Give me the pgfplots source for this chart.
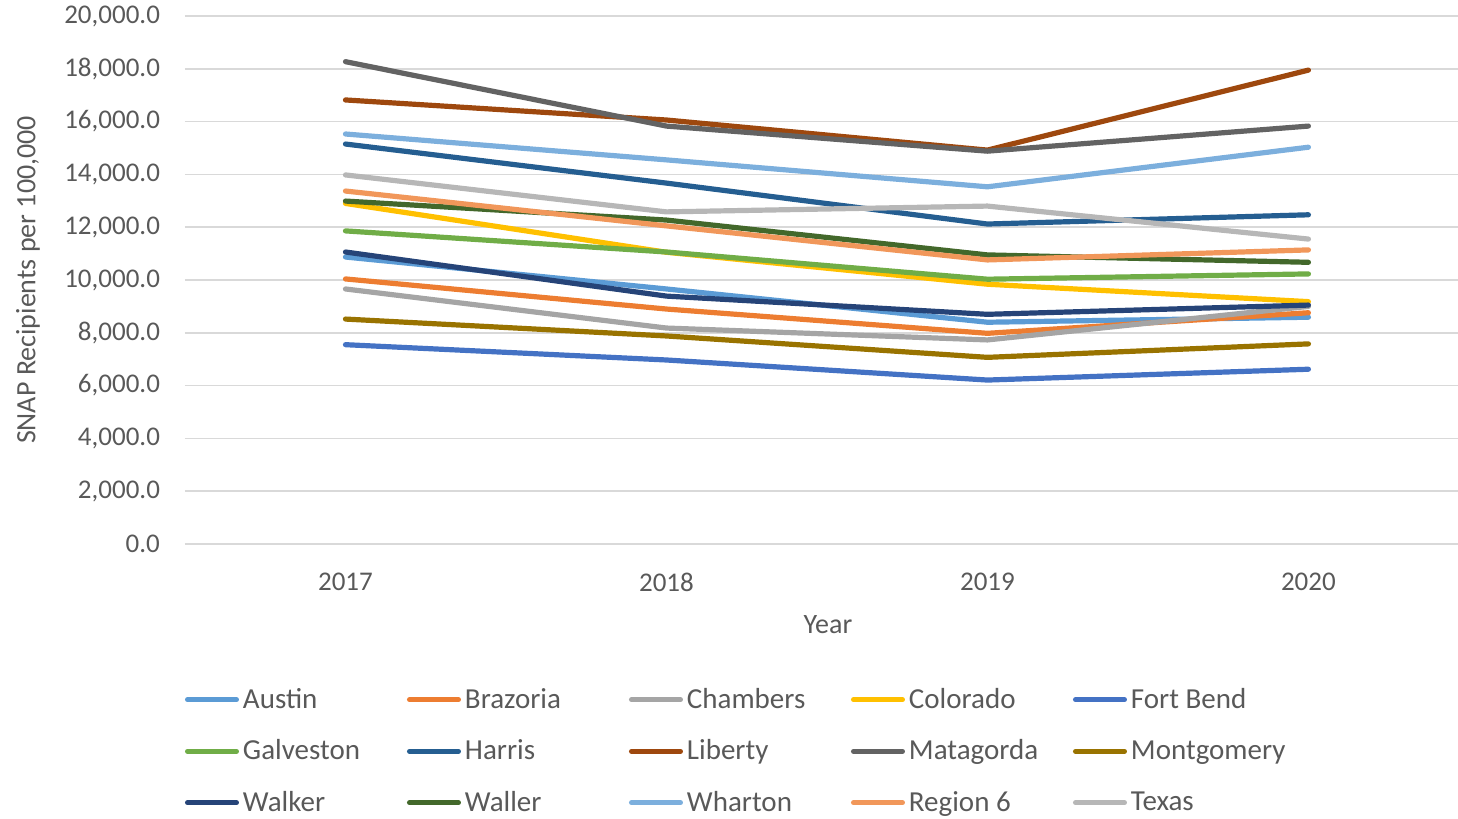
\documentclass[border=0pt]{standalone}
\usepackage{fontspec}
\setmainfont{Carlito}
\usepackage{pgfplots}
\pgfplotsset{compat=1.18}

\definecolor{txt}{HTML}{595959}
\definecolor{gridc}{HTML}{D9D9D9}
\definecolor{cAustin}{HTML}{5B9BD5}
\definecolor{cBrazoria}{HTML}{ED7D31}
\definecolor{cChambers}{HTML}{A5A5A5}
\definecolor{cColorado}{HTML}{FFC000}
\definecolor{cFortBend}{HTML}{4472C4}
\definecolor{cGalveston}{HTML}{70AD47}
\definecolor{cHarris}{HTML}{255E91}
\definecolor{cLiberty}{HTML}{9E480E}
\definecolor{cMatagorda}{HTML}{636363}
\definecolor{cMontgomery}{HTML}{997300}
\definecolor{cWalker}{HTML}{264478}
\definecolor{cWaller}{HTML}{43682B}
\definecolor{cWharton}{HTML}{7CAFDD}
\definecolor{cRegion}{HTML}{F1975A}
\definecolor{cTexas}{HTML}{B7B7B7}

\begin{document}
\begin{tikzpicture}
\useasboundingbox (0,0) rectangle (729pt,409.5pt);
\begin{axis}[
  at={(92.5pt,137.5pt)}, anchor=south west,
  scale only axis, width=636.5pt, height=264pt,
  xmin=-0.5, xmax=3.466, ymin=0, ymax=20000,
  xtick={0,1,2,3}, xticklabels={2017,2018,2019,2020},
  ytick={0,2000,...,20000},
  axis line style={draw=none},
  tick style={draw=none},
  ymajorgrids, grid style={gridc, line width=0.75pt},
  scaled y ticks=false,
  /pgf/number format/.cd, fixed, fixed zerofill, precision=1, 1000 sep={,}, assume math mode=true,
  /pgfplots/.cd,
  ticklabel style={font=\fontsize{13.5}{15}\selectfont, text=txt},
  yticklabel style={xshift=-9pt},
  xticklabel style={anchor=center, text depth=0pt, yshift=-19pt},
  xlabel={Year}, ylabel={SNAP Recipients per 100,000},
  label style={font=\fontsize{14}{16}\selectfont, text=txt},
  xlabel style={at={(axis description cs:0.505,0)}, anchor=center, yshift=-40.5pt},
  ylabel style={at={(axis description cs:-0.1233,0.5)}, anchor=center},
  every axis plot/.append style={line width=2.6pt, line cap=round, line join=round, mark=none},
  legend columns=5,
  legend image code/.code={\draw[#1, line width=2.5pt, line cap=round] (1.5pt,0pt) -- (26pt,0pt);},
  legend style={at={(axis description cs:0,0)}, anchor=north west, yshift=-65pt,
    draw=none, fill=none, inner sep=0pt, outer sep=0pt,
    font=\fontsize{14.5}{16}\selectfont, text=txt,
    column sep=0pt, row sep=0pt,
    /tikz/every odd column/.append style={column sep=2pt},
    /tikz/every even column/.append style={text width=82pt, align=flush left},
    nodes={inner sep=0pt, minimum height=25.75pt}},
  legend cell align=left,
]
\addplot[cAustin] coordinates {(0,10870)(1,9660)(2,8400)(3,8590)};
\addlegendentry{Austin}
\addplot[cBrazoria] coordinates {(0,10040)(1,8900)(2,7980)(3,8760)};
\addlegendentry{Brazoria}
\addplot[cChambers] coordinates {(0,9660)(1,8180)(2,7730)(3,9000)};
\addlegendentry{Chambers}
\addplot[cColorado] coordinates {(0,12900)(1,11050)(2,9840)(3,9180)};
\addlegendentry{Colorado}
\addplot[cFortBend] coordinates {(0,7550)(1,6970)(2,6210)(3,6620)};
\addlegendentry{Fort Bend}
\addplot[cGalveston] coordinates {(0,11860)(1,11060)(2,10030)(3,10230)};
\addlegendentry{Galveston}
\addplot[cHarris] coordinates {(0,15150)(1,13670)(2,12120)(3,12470)};
\addlegendentry{Harris}
\addplot[cLiberty] coordinates {(0,16820)(1,16060)(2,14920)(3,17950)};
\addlegendentry{Liberty}
\addplot[cMatagorda] coordinates {(0,18270)(1,15830)(2,14880)(3,15830)};
\addlegendentry{Matagorda}
\addplot[cMontgomery] coordinates {(0,8520)(1,7880)(2,7070)(3,7580)};
\addlegendentry{Montgomery}
\addplot[cWalker] coordinates {(0,11060)(1,9390)(2,8700)(3,9050)};
\addlegendentry{Walker}
\addplot[cWaller] coordinates {(0,12990)(1,12270)(2,10950)(3,10670)};
\addlegendentry{Waller}
\addplot[cWharton] coordinates {(0,15530)(1,14550)(2,13530)(3,15030)};
\addlegendentry{Wharton}
\addplot[cRegion] coordinates {(0,13370)(1,12050)(2,10760)(3,11140)};
\addlegendentry{Region 6}
\addplot[cTexas] coordinates {(0,13980)(1,12580)(2,12800)(3,11550)};
\addlegendentry{Texas}
\end{axis}
\end{tikzpicture}
\end{document}
